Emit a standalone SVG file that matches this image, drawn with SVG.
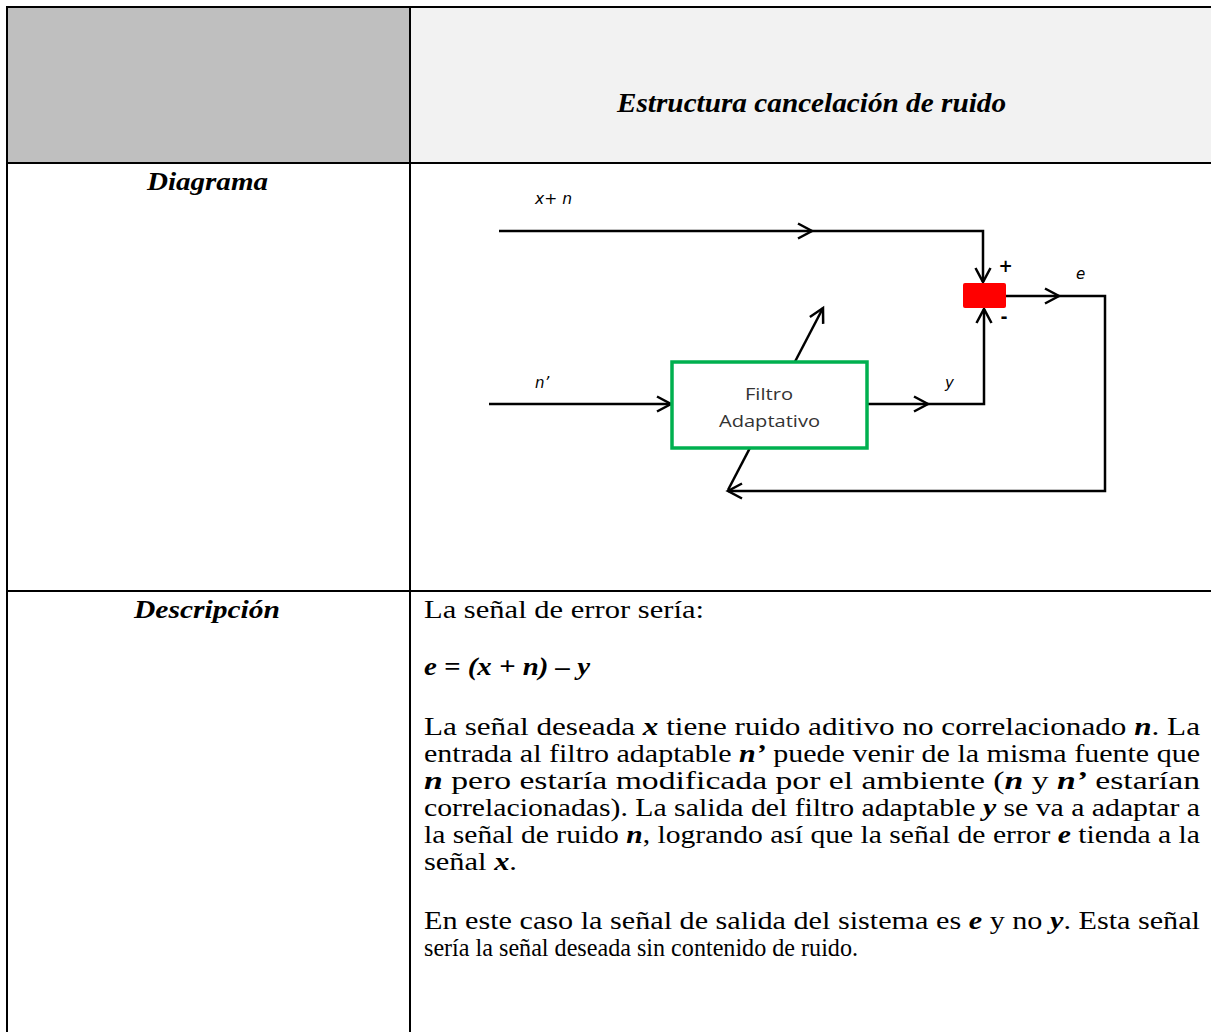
<svg xmlns="http://www.w3.org/2000/svg" width="1211" height="1032" viewBox="0 0 1211 1032">
  <style>
    .grid { stroke: #000; stroke-width: 2; fill: none; }
    .head { font-family: "Liberation Serif", "Times New Roman", serif; font-weight: bold; font-style: italic; fill: #000; }
    .body { font-family: "Liberation Serif", "Times New Roman", serif; font-size: 24.5px; fill: #000; }
    .bi { font-weight: bold; font-style: italic; }
    .wire { stroke: #000; stroke-width: 2.5; fill: none; }
    .lbl { font-family: "DejaVu Sans", sans-serif; font-style: italic; font-size: 15px; fill: #000; }
    .sign { font-family: "DejaVu Sans", sans-serif; font-weight: bold; font-size: 17px; fill: #000; }
    .box { font-family: "Open Sans", "Noto Sans", sans-serif; font-size: 17px; fill: #333; }
  </style>
  <defs>
    <marker id="chev" markerUnits="userSpaceOnUse" markerWidth="20" markerHeight="20" refX="14" refY="8" orient="auto" overflow="visible">
      <path d="M0,0.5 L14,8 L0,15.5" fill="none" stroke="#000" stroke-width="2.5"/>
    </marker>
  </defs>

  <g id="table">
    <rect x="8" y="8" width="401" height="154" fill="#bfbfbf"/>
    <rect x="411" y="8" width="800" height="154" fill="#f2f2f2"/>
    <line class="grid" x1="6" y1="7" x2="1211" y2="7"/>
    <line class="grid" x1="7" y1="6" x2="7" y2="1032"/>
    <line class="grid" x1="410" y1="6" x2="410" y2="1032"/>
    <line class="grid" x1="6" y1="163" x2="1211" y2="163"/>
    <line class="grid" x1="6" y1="591" x2="1211" y2="591"/>
  </g>

  <g id="headers">
    <text class="head" x="811.5" y="112" font-size="28" text-anchor="middle" textLength="389" lengthAdjust="spacingAndGlyphs">Estructura cancelación de ruido</text>
    <text class="head" x="207.5" y="190" font-size="24.5" text-anchor="middle" textLength="121" lengthAdjust="spacingAndGlyphs">Diagrama</text>
    <text class="head" x="207" y="618" font-size="24.5" text-anchor="middle" textLength="146" lengthAdjust="spacingAndGlyphs">Descripción</text>
  </g>

  <g id="connectors">
    <path class="wire" d="M499,231 H812" marker-end="url(#chev)"/>
    <path class="wire" d="M812,231 H983 V282" marker-end="url(#chev)"/>
    <path class="wire" d="M489,404 H671" marker-end="url(#chev)"/>
    <path class="wire" d="M867,404 H928" marker-end="url(#chev)"/>
    <path class="wire" d="M928,404 H984 V309" marker-end="url(#chev)"/>
    <path class="wire" d="M1006,296 H1059" marker-end="url(#chev)"/>
    <path class="wire" d="M1059,296 H1105 V491 H728" marker-end="url(#chev)"/>
    <path class="wire" d="M728,490 L823,308" marker-end="url(#chev)"/>
  </g>

  <g id="filtro">
    <rect x="672" y="362" width="195" height="86" fill="#fff" stroke="#00b04f" stroke-width="3.5"/>
    <text class="box" x="769" y="400" text-anchor="middle" textLength="48" lengthAdjust="spacingAndGlyphs">Filtro</text>
    <text class="box" x="769.5" y="427" text-anchor="middle" textLength="101" lengthAdjust="spacingAndGlyphs">Adaptativo</text>
  </g>

  <g id="sumador">
    <rect x="963" y="283" width="43" height="25" rx="2" fill="#ff0000"/>
    <text class="sign" x="1005.5" y="272" text-anchor="middle">+</text>
    <text class="sign" x="1004" y="323" text-anchor="middle">-</text>
  </g>

  <g id="labels">
    <text class="lbl" x="535" y="204" textLength="37" lengthAdjust="spacingAndGlyphs">x+ n</text>
    <text class="lbl" x="535" y="388">n’</text>
    <text class="lbl" x="945" y="388">y</text>
    <text class="lbl" x="1076" y="279">e</text>
  </g>

  <g id="descripcion" class="body">
    <text x="424" y="618" textLength="280" lengthAdjust="spacingAndGlyphs">La señal de error sería:</text>
    <text x="424" y="675" class="bi" textLength="166" lengthAdjust="spacingAndGlyphs">e = (x + n) – y</text>
    <text x="424" y="735" textLength="776" lengthAdjust="spacingAndGlyphs">La señal deseada <tspan class="bi">x</tspan> tiene ruido aditivo no correlacionado <tspan class="bi">n</tspan>.  La</text>
    <text x="424" y="762" textLength="776" lengthAdjust="spacingAndGlyphs">entrada al filtro adaptable <tspan class="bi">n’</tspan> puede venir de la misma fuente que</text>
    <text x="424" y="789" textLength="776" lengthAdjust="spacingAndGlyphs"><tspan class="bi">n</tspan> pero estaría modificada por el ambiente (<tspan class="bi">n</tspan> y <tspan class="bi">n’</tspan> estarían</text>
    <text x="424" y="816" textLength="776" lengthAdjust="spacingAndGlyphs">correlacionadas). La salida del filtro adaptable <tspan class="bi">y</tspan> se va a adaptar a</text>
    <text x="424" y="843" textLength="776" lengthAdjust="spacingAndGlyphs">la señal de ruido <tspan class="bi">n</tspan>, logrando así que la señal de error <tspan class="bi">e</tspan> tienda a la</text>
    <text x="424" y="870" textLength="93" lengthAdjust="spacingAndGlyphs">señal <tspan class="bi">x</tspan>.</text>
    <text x="424" y="929" textLength="776" lengthAdjust="spacingAndGlyphs">En este caso la señal de salida del sistema es <tspan class="bi">e</tspan> y no <tspan class="bi">y</tspan>. Esta señal</text>
    <text x="424" y="956" textLength="434" lengthAdjust="spacingAndGlyphs">sería la señal deseada sin contenido de ruido.</text>
  </g>
</svg>
